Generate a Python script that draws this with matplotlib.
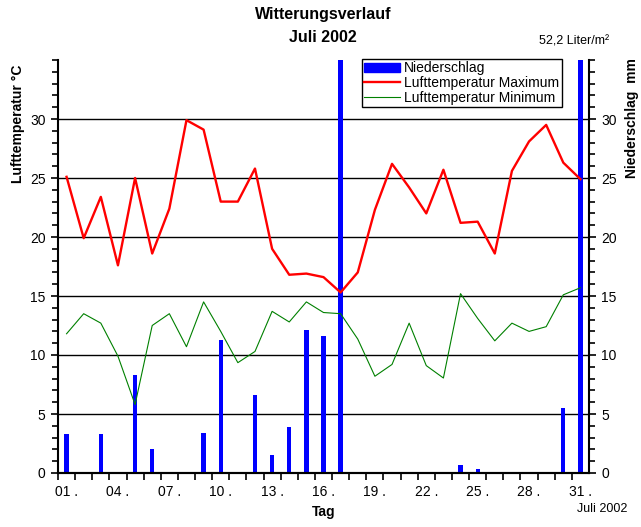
import matplotlib
matplotlib.use("Agg")
import matplotlib.pyplot as plt
from matplotlib.lines import Line2D
from matplotlib.patches import Patch
from matplotlib.ticker import MultipleLocator, FixedLocator

plt.rcParams['font.family'] = ['Liberation Sans', 'DejaVu Sans']

days = list(range(1, 32))
t_max = [25.1, 19.9, 23.4, 17.6, 25.0, 18.6, 22.4, 29.9, 29.1, 23.0, 23.0, 25.8,
         19.0, 16.8, 16.9, 16.6, 15.3, 17.0, 22.3, 26.2, 24.2, 22.0, 25.7, 21.2,
         21.3, 18.6, 25.6, 28.1, 29.5, 26.3, 24.9]
t_min = [11.8, 13.5, 12.7, 9.9, 5.8, 12.5, 13.5, 10.7, 14.5, 12.0, 9.35, 10.3,
         13.7, 12.8, 14.5, 13.6, 13.5, 11.35, 8.2, 9.2, 12.7, 9.1, 8.05, 15.2,
         13.1, 11.2, 12.7, 12.0, 12.4, 15.1, 15.7]
precip = [3.3, 0, 3.3, 0, 8.3, 2.0, 0, 0, 3.4, 11.3, 0, 6.6, 1.5, 3.9, 12.1, 11.6,
          40.0, 0, 0, 0, 0, 0, 0, 0.7, 0.3, 0, 0, 0, 0, 5.5, 52.2]
xtick_days = [1, 4, 7, 10, 13, 16, 19, 22, 25, 28, 31]
xtick_labels = ["%02d ." % d for d in xtick_days]
ytick_vals = [0, 5, 10, 15, 20, 25, 30]

fig = plt.figure(figsize=(6.41, 5.27), dpi=100)
ax = fig.add_axes([58/641, 1 - 473/527, (589-58)/641, (473-60)/527])
ax2 = ax.twinx()

ax.bar(days, precip, width=0.25, color='#0000ff', zorder=2)
for v in ytick_vals[1:]:
    ax.axhline(v, color='black', lw=1.0, zorder=1)

ax2.plot(days, t_max, color='#ff0000', lw=1.7, zorder=3)
ax2.plot(days, t_min, color='#008000', lw=0.8, zorder=3)

for a in (ax, ax2):
    a.set_xlim(0.5, 31.5)
    a.set_ylim(0, 35)
    a.spines['top'].set_visible(False)
    a.yaxis.set_major_locator(FixedLocator(ytick_vals))
    a.yaxis.set_minor_locator(MultipleLocator(1))
    a.tick_params(axis='y', which='major', length=5, width=1.2, direction='out',
                  labelsize=10, pad=4)
    a.tick_params(axis='y', which='minor', length=4, width=1.2, direction='out')
    for s in a.spines.values():
        s.set_linewidth(1.5)

ax.spines['right'].set_visible(False)
ax2.spines['left'].set_visible(False)

ax.xaxis.set_major_locator(FixedLocator(xtick_days))
ax.set_xticklabels(xtick_labels, fontsize=10)
ax.tick_params(axis='x', which='major', length=0, pad=9)
ax.xaxis.set_minor_locator(FixedLocator([d + 0.5 for d in range(0, 31)]))
ax.tick_params(axis='x', which='minor', length=5, width=1.2, direction='out')

ax.set_ylabel("Lufttemperatur °C", fontsize=10, fontweight='bold')
ax.yaxis.set_label_coords(-0.062, 0.845)
ax2.set_ylabel("Niederschlag  mm", fontsize=10, fontweight='bold')
ax2.yaxis.set_label_coords(1.068, 0.86)
ax.set_xlabel("Tag", fontsize=10, fontweight='bold', labelpad=4)

fig.text(323/641, 1 - 15/527, "Witterungsverlauf", ha='center', va='center',
         fontsize=11.5, fontweight='bold')
fig.text(323/641, 1 - 38/527, "Juli 2002", ha='center', va='center',
         fontsize=11.5, fontweight='bold')
fig.text(574/641, 1 - 41/527, "52,2 Liter/m²", ha='center', va='center', fontsize=9)
fig.text(627/641, 1 - 509/527, "Juli 2002", ha='right', va='center', fontsize=9)

handles = [Patch(color='#0000ff'),
           Line2D([0], [0], color='#ff0000', lw=1.7),
           Line2D([0], [0], color='#008000', lw=0.8)]
labels = ["Niederschlag", "Lufttemperatur Maximum", "Lufttemperatur Minimum"]
leg = ax2.legend(handles, labels, loc='upper left',
                 bbox_to_anchor=((362-58)/531, 1.002), fontsize=10,
                 frameon=True, fancybox=False, framealpha=1, edgecolor='black',
                 borderpad=0.15, labelspacing=0.05, handlelength=2.6,
                 handleheight=0.6, handletextpad=0.3, borderaxespad=0)
leg.get_frame().set_linewidth(1.0)

fig.savefig("out.png", dpi=100)
